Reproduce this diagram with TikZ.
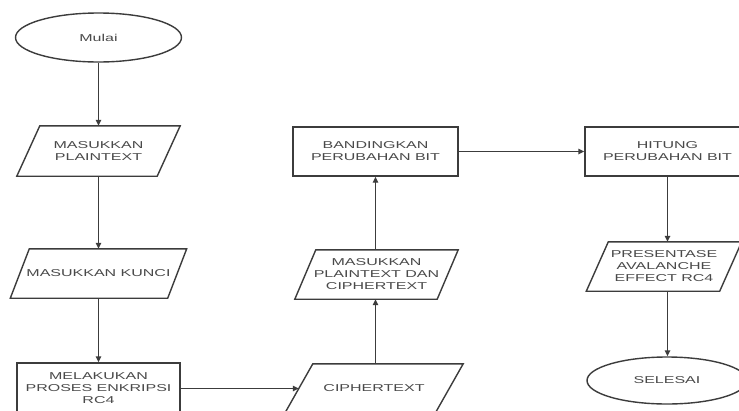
\documentclass[tikz,border=0pt]{standalone}
\usepackage{fontspec}
\setmainfont{Liberation Sans}[FakeStretch=1.6]
\usetikzlibrary{shapes.geometric,arrows.meta,calc}

\definecolor{linec}{HTML}{3C3C3C}
\definecolor{textc}{HTML}{4A4A4A}

\tikzset{
  label font/.style={text=textc, font=\fontsize{10}{12}\selectfont, align=center},
  flow/.style={draw=linec, line width=1.4pt, -{Triangle[length=6pt,width=5.5pt]}},
  frame/.style={draw=linec, line width=1.4pt, line join=miter},
  procbox/.style={rectangle, frame, inner sep=0pt, label font},
  iobox/.style={rectangle, inner sep=0pt, label font},
  termbox/.style={ellipse, frame, inner sep=0pt, label font},
}

% outline of an input/output parallelogram over a node's box
\newcommand\ioframe[2]{%
  \draw[frame] ($(#1.north west)+(#2,0)$) -- (#1.north east)
    -- ($(#1.south east)-(#2,0)$) -- (#1.south west) -- cycle;}

\begin{document}
\begin{tikzpicture}[x=1pt,y=-1pt]
\clip (0,0) rectangle (739,410);
\fill[white] (0,0) rectangle (739,410);

% left column
\node[termbox, minimum width=166pt, minimum height=49pt] (start) at (98.5,37.5) {Mulai};
\node[iobox, minimum width=163pt, minimum height=50pt] (plain) at (98.5,151) {MASUKKAN\\PLAINTEXT};
\ioframe{plain}{23}
\node[iobox, minimum width=176pt, minimum height=49pt] (key) at (98.5,273.5) {MASUKKAN KUNCI};
\ioframe{key}{19}
\node[procbox, minimum width=163pt, minimum height=51pt] (enc) at (98.5,388.5) {MELAKUKAN\\PROSES ENKRIPSI\\RC4};

% middle column
\node[iobox, minimum width=178pt, minimum height=49pt] (ct) at (374,388.5) {CIPHERTEXT};
\ioframe{ct}{28}
\coordinate (ctin) at ($(ct.west)+(14,0)$);
\node[iobox, minimum width=163pt, minimum height=49pt] (both) at (376.5,274.5) {MASUKKAN\\PLAINTEXT DAN\\CIPHERTEXT};
\ioframe{both}{21}
\node[procbox, minimum width=165pt, minimum height=49pt] (cmp) at (375.5,151.5) {BANDINGKAN\\PERUBAHAN BIT};

% right column
\node[procbox, minimum width=165pt, minimum height=49pt] (count) at (667.5,151.5) {HITUNG\\PERUBAHAN BIT};
\node[iobox, minimum width=155pt, minimum height=49pt] (pct) at (664,266.5) {PRESENTASE\\AVALANCHE\\EFFECT RC4};
\ioframe{pct}{22}
\node[termbox, minimum width=160pt, minimum height=47pt] (end) at (667,380.5) {SELESAI};

% connectors
\draw[flow] (start.south) -- (start.south |- plain.north);
\draw[flow] (plain.south) -- (plain.south |- key.north);
\draw[flow] (key.south) -- (key.south |- enc.north);
\draw[flow] (enc.east) -- (ctin);
\draw[flow] (ct.north -| cmp.south) -- (both.south -| cmp.south);
\draw[flow] (both.north -| cmp.south) -- (cmp.south);
\draw[flow] (cmp.east) -- (count.west);
\draw[flow] (count.south) -- (count.south |- pct.north);
\draw[flow] (pct.south -| count.south) -- (count.south |- end.north);
\end{tikzpicture}
\end{document}
